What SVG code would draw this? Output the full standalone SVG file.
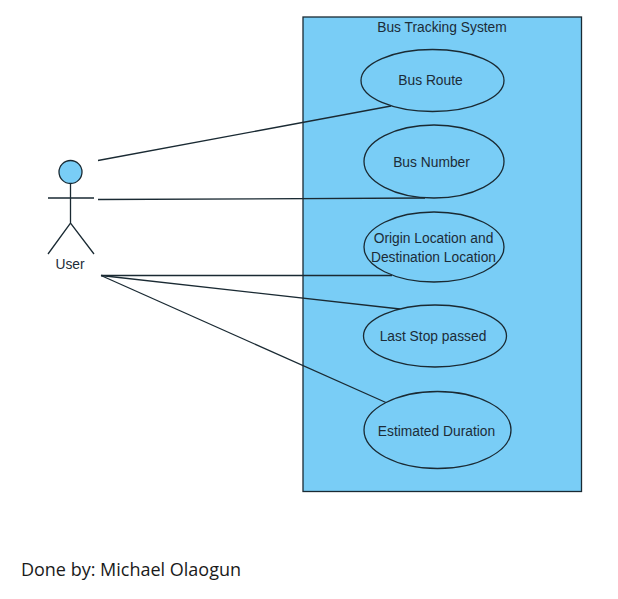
<svg xmlns="http://www.w3.org/2000/svg" width="618" height="599" viewBox="0 0 618 599">
<style>
.s{stroke:#1a2a33;stroke-width:1.3;fill:none}
.n{stroke:#1a2a33;stroke-width:1.3;fill:#79cdf6}
text{font-family:"Liberation Sans",Arial,sans-serif;font-size:13.800px;fill:#1c2c38;text-anchor:middle}
</style>
<rect width="618" height="599" fill="#fff"/>
<g id="system"><rect class="n" x="303" y="17" width="278.500" height="474.500"/><text x="442" y="32">Bus Tracking System</text></g>
<g id="connectors">
<line class="s" x1="98" y1="160.500" x2="391" y2="106"/>
<line class="s" x1="98" y1="199.500" x2="425" y2="198"/>
<line class="s" x1="101" y1="275.500" x2="392" y2="275.500"/>
<line class="s" x1="101" y1="275.500" x2="400" y2="309"/>
<line class="s" x1="101" y1="275.500" x2="387" y2="403"/>
</g>
<g id="user">
<circle class="n" cx="70.500" cy="172" r="11.500"/>
<path class="s" d="M70.500 184V223M48 198H94M48 254L70.500 223L94 254"/>
<text x="70" y="269">User</text>
</g>
<g id="busRoute"><ellipse class="n" cx="432.500" cy="80.500" rx="71.500" ry="31"/><text x="430.500" y="85">Bus Route</text></g>
<g id="busNumber"><ellipse class="n" cx="434" cy="161.500" rx="70" ry="36.500"/><text x="431.500" y="166.500">Bus Number</text></g>
<g id="origin"><ellipse class="n" cx="434" cy="247" rx="70" ry="35"/><text x="433.500" y="242.500">Origin Location and</text><text x="433.500" y="261.500">Destination Location</text></g>
<g id="lastStop"><ellipse class="n" cx="435" cy="336" rx="71.500" ry="31"/><text x="433" y="341">Last Stop passed</text></g>
<g id="duration"><ellipse class="n" cx="437.500" cy="430" rx="73.500" ry="38.500"/><text x="436.500" y="436">Estimated Duration</text></g>
<text x="131" y="575.500" style="font-family:'Open Sans','Noto Sans',sans-serif;font-size:18px;fill:#1a1a1a">Done by: Michael Olaogun</text>
</svg>
